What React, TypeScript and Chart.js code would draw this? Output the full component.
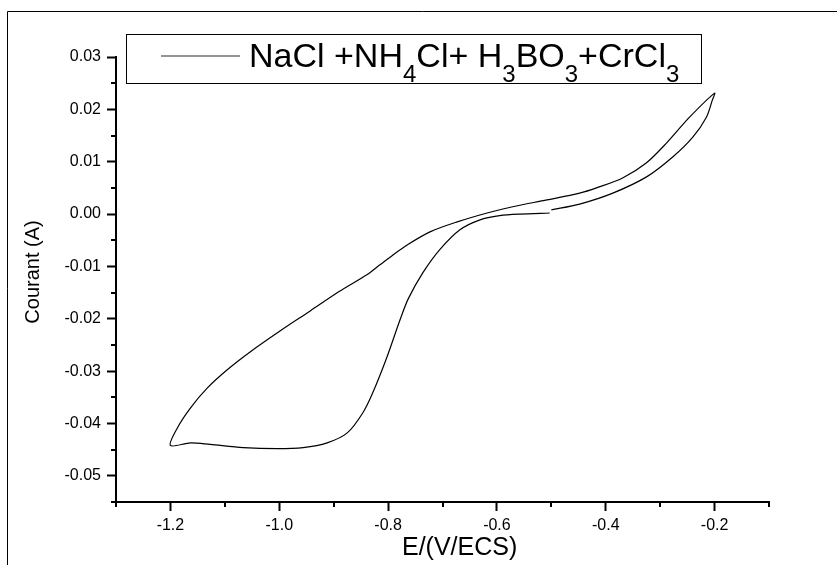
import React, { useEffect, useRef } from 'react';
import { Chart, registerables } from 'chart.js';

Chart.register(...registerables);

// Cyclic voltammogram: scan 1 (start -0.5 V -> vertex -0.2 V)
const scan1E = [-0.50, -0.448, -0.387, -0.325, -0.277, -0.240, -0.215, -0.204, -0.200];
const scan1I = [0.0008, 0.0019, 0.0040, 0.0071, 0.0109, 0.0147, 0.0185, 0.0218, 0.0231];
// scan 2 (vertex -0.2 V -> vertex -1.2 V)
const scan2E = [-0.200, -0.246, -0.288, -0.325, -0.369, -0.417, -0.448, -0.508, -0.571, -0.618, -0.673, -0.723, -0.765, -0.791, -0.815, -0.839, -0.890, -0.943, -0.998, -1.053, -1.095, -1.132, -1.163, -1.187, -1.200];
const scan2I = [0.0231, 0.0185, 0.0136, 0.0098, 0.0069, 0.0050, 0.0040, 0.0027, 0.0014, 0.0002, -0.0015, -0.0034, -0.0059, -0.0078, -0.0097, -0.0116, -0.0148, -0.0185, -0.0223, -0.0263, -0.0297, -0.0332, -0.0370, -0.0408, -0.0442];
// scan 3 (vertex -1.2 V -> back to -0.5 V)
const scan3E = [-1.200, -1.163, -1.127, -1.066, -1.004, -0.956, -0.912, -0.875, -0.846, -0.828, -0.802, -0.778, -0.763, -0.736, -0.705, -0.668, -0.631, -0.595, -0.558, -0.503];
const scan3I = [-0.0442, -0.0437, -0.0440, -0.0446, -0.0448, -0.0446, -0.0437, -0.0418, -0.0379, -0.0341, -0.0273, -0.0202, -0.0162, -0.0112, -0.0068, -0.0030, -0.0011, -0.0003, 0.0000, 0.0002];

const xMajorTicks = [-1.2, -1.0, -0.8, -0.6, -0.4, -0.2];
const xMinorTicks = [-1.3, -1.1, -0.9, -0.7, -0.5, -0.3, -0.1];
const yMajorTicks = [0.03, 0.02, 0.01, 0.0, -0.01, -0.02, -0.03, -0.04, -0.05];
const yMinorTicks = [0.025, 0.015, 0.005, -0.005, -0.015, -0.025, -0.035, -0.045, -0.055];

const xTitle = 'E/(V/ECS)';
const yTitle = 'Courant (A)';
// legend label pieces: [text, isSubscript]
const legendPieces: [string, boolean][] = [
  ['NaCl +NH', false], ['4', true], ['Cl+ H', false], ['3', true], ['BO', false], ['3', true], ['+CrCl', false], ['3', true],
];

const FONT = "'Liberation Sans', Arial, sans-serif";

const decorPlugin = {
  id: 'decor',
  afterDraw(chart: any) {
    const ctx = chart.ctx;
    const xs = chart.scales.x;
    const ys = chart.scales.y;
    const area = chart.chartArea;
    ctx.save();
    // outer frame
    ctx.strokeStyle = '#000';
    ctx.lineWidth = 1;
    ctx.beginPath();
    ctx.moveTo(7.5, 565);
    ctx.lineTo(7.5, 11.5);
    ctx.lineTo(837, 11.5);
    ctx.stroke();

    // minor ticks
    ctx.lineWidth = 2;
    ctx.beginPath();
    xMinorTicks.forEach((v) => {
      const px = Math.round(xs.getPixelForValue(v));
      ctx.moveTo(px, area.bottom);
      ctx.lineTo(px, area.bottom + 5);
    });
    yMinorTicks.forEach((v) => {
      const py = Math.round(ys.getPixelForValue(v));
      ctx.moveTo(area.left - 5, py);
      ctx.lineTo(area.left, py);
    });
    ctx.stroke();

    // axis titles
    ctx.fillStyle = '#000';
    ctx.font = `25px ${FONT}`;
    ctx.textAlign = 'left';
    ctx.textBaseline = 'alphabetic';
    ctx.fillText(xTitle, 402, 555);

    ctx.save();
    ctx.translate(39, 272);
    ctx.rotate(-Math.PI / 2);
    ctx.font = `20px ${FONT}`;
    ctx.textAlign = 'center';
    ctx.fillText(yTitle, 0, 0);
    ctx.restore();

    // legend box
    ctx.lineWidth = 1;
    ctx.strokeStyle = '#000';
    ctx.strokeRect(126.5, 34.5, 575, 49);
    ctx.strokeStyle = '#707070';
    ctx.lineWidth = 1.5;
    ctx.beginPath();
    ctx.moveTo(161, 56);
    ctx.lineTo(240, 56);
    ctx.stroke();

    let x = 249;
    legendPieces.forEach(([t, sub]) => {
      ctx.font = sub ? `24px ${FONT}` : `34px ${FONT}`;
      ctx.fillStyle = '#000';
      ctx.textAlign = 'left';
      ctx.fillText(t, x, sub ? 82 : 67);
      x += ctx.measureText(t).width;
    });
    ctx.restore();
  },
};

export default function App() {
  const ref = useRef<HTMLCanvasElement | null>(null);
  useEffect(() => {
    if (!ref.current) return;
    const points: { x: number; y: number }[] = [];
    scan1E.forEach((e, i) => points.push({ x: e, y: scan1I[i] }));
    scan2E.forEach((e, i) => { if (i > 0) points.push({ x: e, y: scan2I[i] }); });
    scan3E.forEach((e, i) => { if (i > 0) points.push({ x: e, y: scan3I[i] }); });

    const chart = new Chart(ref.current, {
      type: 'scatter',
      data: {
        datasets: [
          {
            label: 'NaCl +NH4Cl+ H3BO3+CrCl3',
            data: points,
            showLine: true,
            borderColor: '#000',
            borderWidth: 1.2,
            pointRadius: 0,
            tension: 0.3,
            fill: false,
          },
        ],
      },
      options: {
        responsive: false,
        animation: false,
        layout: { padding: { left: 0, top: 57, right: 68, bottom: 0 } },
        plugins: { legend: { display: false }, tooltip: { enabled: false }, title: { display: false } },
        scales: {
          x: {
            type: 'linear',
            min: -1.3,
            max: -0.1,
            afterBuildTicks: (s: any) => { s.ticks = xMajorTicks.map((v) => ({ value: v })); },
            afterFit: (s: any) => { s.height = 63; },
            grid: { display: true, drawOnChartArea: false, drawTicks: true, tickLength: 9, tickWidth: 2, tickColor: '#000', color: '#000' },
            border: { display: true, color: '#000', width: 2 },
            ticks: {
              color: '#000',
              font: { family: FONT, size: 16 },
              padding: 5,
              maxRotation: 0,
              autoSkip: false,
              callback: (v: any) => Number(v).toFixed(1),
            },
          },
          y: {
            type: 'linear',
            min: -0.055,
            max: 0.03,
            afterBuildTicks: (s: any) => { s.ticks = yMajorTicks.map((v) => ({ value: v })); },
            afterFit: (s: any) => { s.width = 116; },
            grid: { display: true, drawOnChartArea: false, drawTicks: true, tickLength: 9, tickWidth: 2, tickColor: '#000', color: '#000' },
            border: { display: true, color: '#000', width: 2 },
            ticks: {
              color: '#000',
              font: { family: FONT, size: 16 },
              padding: 6,
              autoSkip: false,
              callback: (v: any) => Number(v).toFixed(2),
            },
          },
        },
      },
      plugins: [decorPlugin],
    });
    return () => chart.destroy();
  }, []);

  return (
    <div style={{ position: 'fixed', left: 0, top: 0, width: 837, height: 565, background: '#fff' }}>
      <canvas ref={ref} width={837} height={565} style={{ width: 837, height: 565, display: 'block' }} />
    </div>
  );
}
